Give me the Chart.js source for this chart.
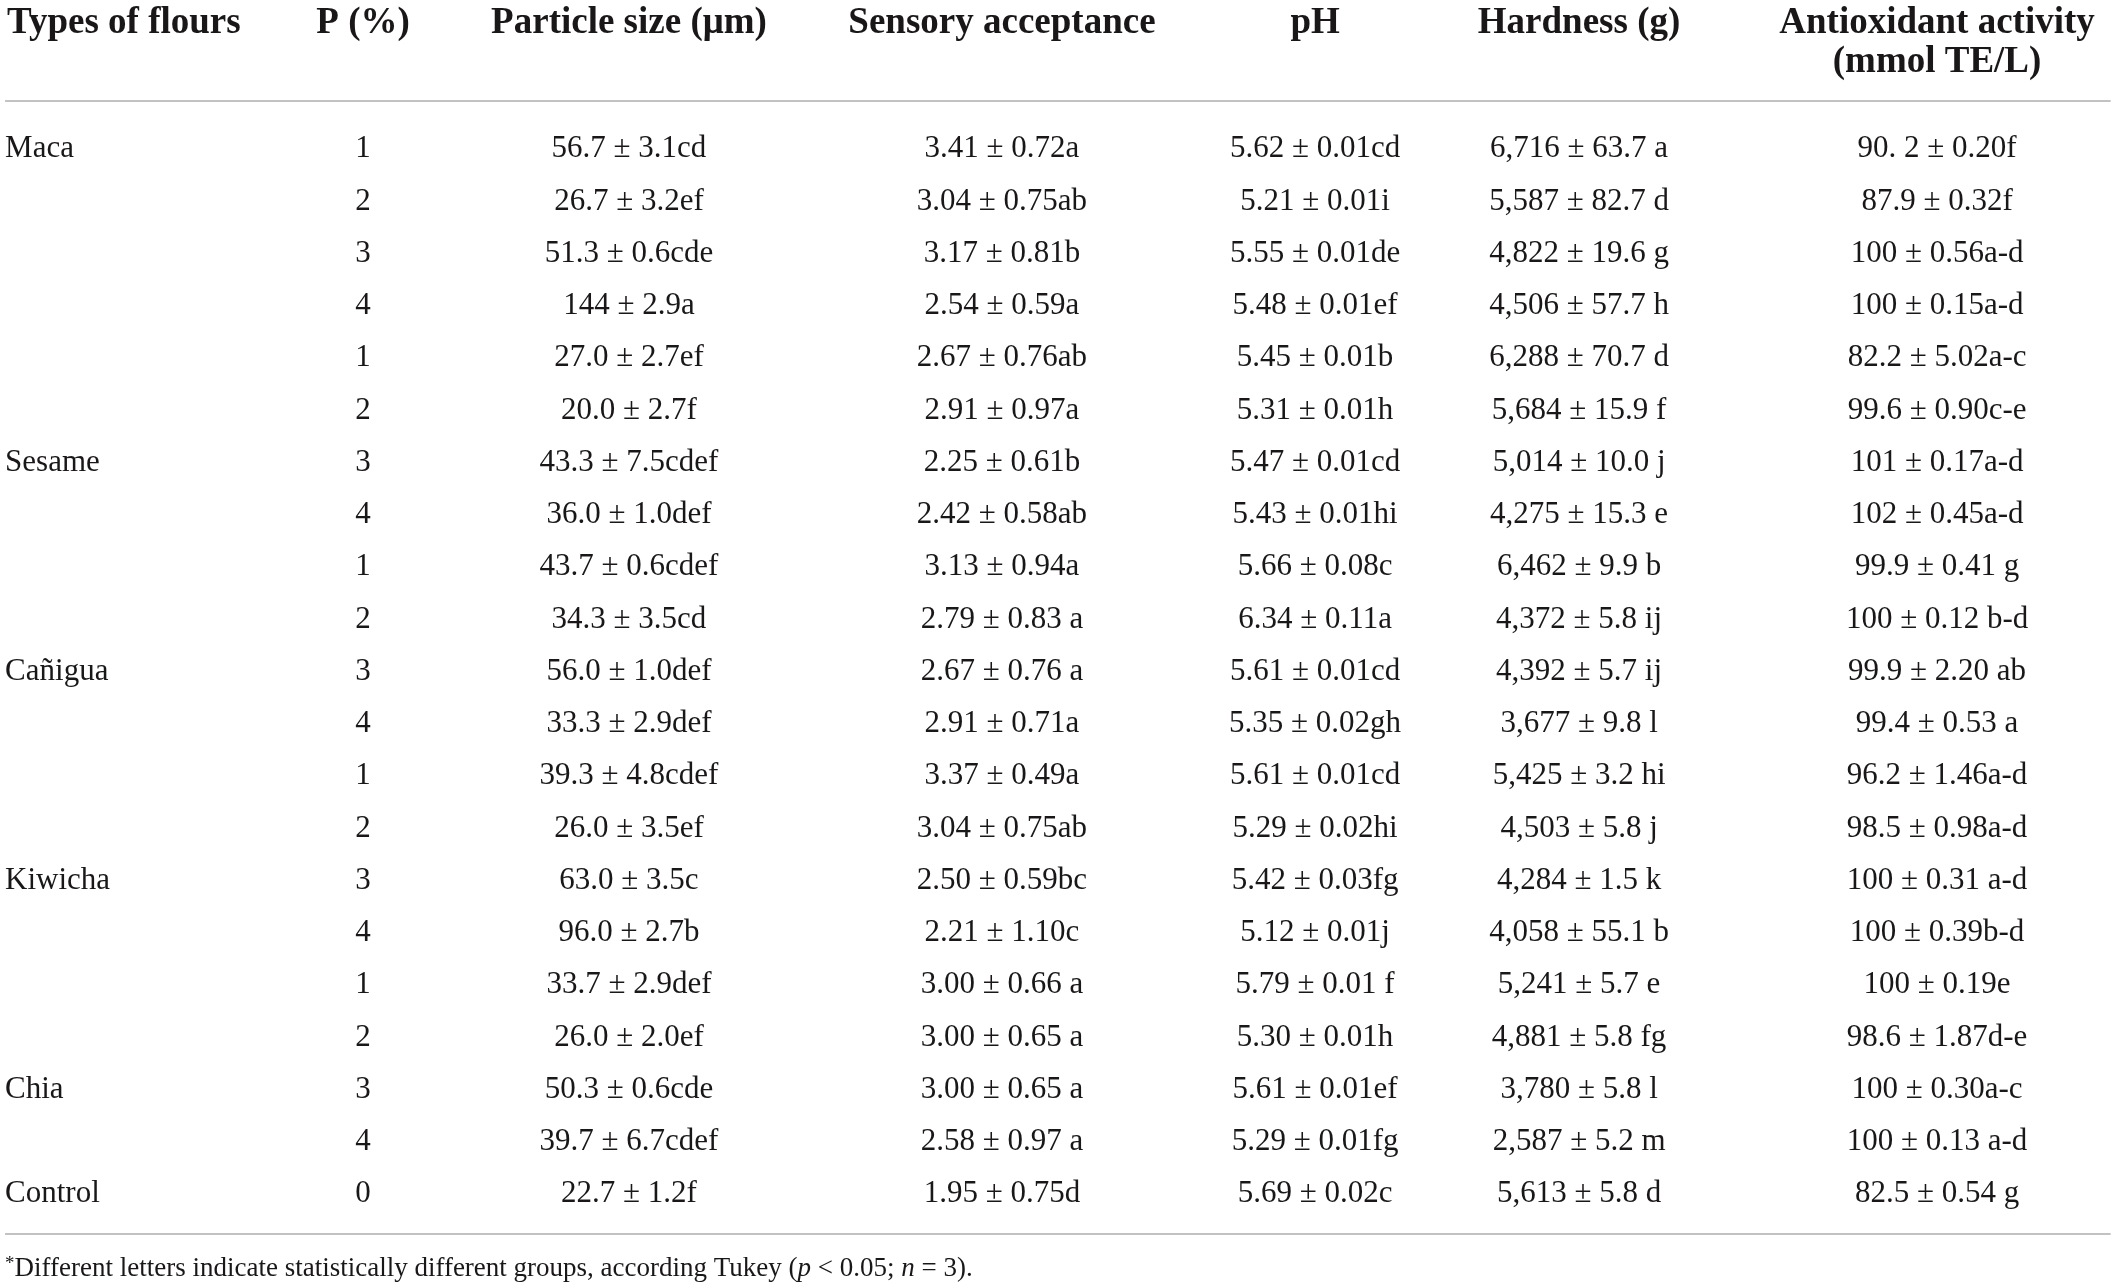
<!DOCTYPE html>
<html>
<head>
<meta charset="utf-8">
<title>Types of flours</title>
<script src="https://cdn.jsdelivr.net/npm/chart.js@4.4.1/dist/chart.umd.min.js"></script>
<style>
  html, body { margin: 0; padding: 0; background: #fff; }
  #wrap { width: 2117px; height: 1287px; position: relative; }
</style>
</head>
<body>
<div id="wrap"><canvas id="tabela"></canvas></div>
<script>
// row labels and P level
const flourTypes = ["Maca", "", "", "", "", "", "Sesame", "", "", "", "Cañigua", "", "", "", "Kiwicha", "", "", "", "Chia", "", "Control"];
const pLevels = ["1", "2", "3", "4", "1", "2", "3", "4", "1", "2", "3", "4", "1", "2", "3", "4", "1", "2", "3", "4", "0"];

// particle size (µm)
const particleMean = ["56.7", "26.7", "51.3", "144", "27.0", "20.0", "43.3", "36.0", "43.7", "34.3", "56.0", "33.3", "39.3", "26.0", "63.0", "96.0", "33.7", "26.0", "50.3", "39.7", "22.7"];
const particleSd = ["3.1", "3.2", "0.6", "2.9", "2.7", "2.7", "7.5", "1.0", "0.6", "3.5", "1.0", "2.9", "4.8", "3.5", "3.5", "2.7", "2.9", "2.0", "0.6", "6.7", "1.2"];
const particleGroup = ["cd", "ef", "cde", "a", "ef", "f", "cdef", "def", "cdef", "cd", "def", "def", "cdef", "ef", "c", "b", "def", "ef", "cde", "cdef", "f"];

// sensory acceptance
const sensoryMean = ["3.41", "3.04", "3.17", "2.54", "2.67", "2.91", "2.25", "2.42", "3.13", "2.79", "2.67", "2.91", "3.37", "3.04", "2.50", "2.21", "3.00", "3.00", "3.00", "2.58", "1.95"];
const sensorySd = ["0.72", "0.75", "0.81", "0.59", "0.76", "0.97", "0.61", "0.58", "0.94", "0.83", "0.76", "0.71", "0.49", "0.75", "0.59", "1.10", "0.66", "0.65", "0.65", "0.97", "0.75"];
const sensoryGroup = ["a", "ab", "b", "a", "ab", "a", "b", "ab", "a", " a", " a", "a", "a", "ab", "bc", "c", " a", " a", " a", " a", "d"];

// pH
const phMean = ["5.62", "5.21", "5.55", "5.48", "5.45", "5.31", "5.47", "5.43", "5.66", "6.34", "5.61", "5.35", "5.61", "5.29", "5.42", "5.12", "5.79", "5.30", "5.61", "5.29", "5.69"];
const phSd = ["0.01", "0.01", "0.01", "0.01", "0.01", "0.01", "0.01", "0.01", "0.08", "0.11", "0.01", "0.02", "0.01", "0.02", "0.03", "0.01", "0.01", "0.01", "0.01", "0.01", "0.02"];
const phGroup = ["cd", "i", "de", "ef", "b", "h", "cd", "hi", "c", "a", "cd", "gh", "cd", "hi", "fg", "j", " f", "h", "ef", "fg", "c"];

// hardness (g)
const hardMean = ["6,716", "5,587", "4,822", "4,506", "6,288", "5,684", "5,014", "4,275", "6,462", "4,372", "4,392", "3,677", "5,425", "4,503", "4,284", "4,058", "5,241", "4,881", "3,780", "2,587", "5,613"];
const hardSd = ["63.7", "82.7", "19.6", "57.7", "70.7", "15.9", "10.0", "15.3", "9.9", "5.8", "5.7", "9.8", "3.2", "5.8", "1.5", "55.1", "5.7", "5.8", "5.8", "5.2", "5.8"];
const hardGroup = [" a", " d", " g", " h", " d", " f", " j", " e", " b", " ij", " ij", " l", " hi", " j", " k", " b", " e", " fg", " l", " m", " d"];

// antioxidant activity (mmol TE/L)
const antioxMean = ["90. 2", "87.9", "100", "100", "82.2", "99.6", "101", "102", "99.9", "100", "99.9", "99.4", "96.2", "98.5", "100", "100", "100", "98.6", "100", "100", "82.5"];
const antioxSd = ["0.20", "0.32", "0.56", "0.15", "5.02", "0.90", "0.17", "0.45", "0.41", "0.12", "2.20", "0.53", "1.46", "0.98", "0.31", "0.39", "0.19", "1.87", "0.30", "0.13", "0.54"];
const antioxGroup = ["f", "f", "a-d", "a-d", "a-c", "c-e", "a-d", "a-d", " g", " b-d", " ab", " a", "a-d", "a-d", " a-d", "b-d", "e", "d-e", "a-c", " a-d", " g"];

const headers = [["Types of flours"], ["P (%)"], ["Particle size (\u03bcm)"], ["Sensory acceptance"], ["pH"], ["Hardness (g)"], ["Antioxidant activity", "(mmol TE/L)"]];
const footnote = [
  { t: "*", sup: true },
  { t: "Different letters indicate statistically different groups, according Tukey (" },
  { t: "p", it: true },
  { t: " < 0.05; " },
  { t: "n", it: true },
  { t: " = 3)." }
];

// layout (x in % of width, y in row units)
const colX = [0.24, 17.15, 29.71, 47.33, 62.12, 74.59, 91.5];
const colAlign = ["left", "center", "center", "center", "center", "center", "center"];
const headerY = [-2.431, -1.684];
const ruleY = [-0.9, 20.785];
const footY = 21.416;
const ink = "#1a1718";
const serif = '"Liberation Serif", "Times New Roman", serif';
const headSize = 37;
const bodySize = 31;
const footSize = 27;

function cellsOf(mean, sd, grp) {
  return mean.map((m, i) => `${m} \u00b1 ${sd[i]}${grp[i]}`);
}

const columns = [
  flourTypes,
  pLevels,
  cellsOf(particleMean, particleSd, particleGroup),
  cellsOf(sensoryMean, sensorySd, sensoryGroup),
  cellsOf(phMean, phSd, phGroup),
  cellsOf(hardMean, hardSd, hardGroup),
  cellsOf(antioxMean, antioxSd, antioxGroup)
];

const datasets = columns.map((cells, c) => ({
  data: cells.map((_, r) => ({ x: colX[c], y: r })),
  cells: cells,
  align: colAlign[c],
  pointRadius: 0,
  pointHoverRadius: 0
}));

ruleY.forEach((y) => {
  datasets.push({
    data: [{ x: 0.24, y: y }, { x: 99.7, y: y }],
    showLine: true,
    borderColor: "#c2c2c2",
    borderWidth: 2,
    pointRadius: 0
  });
});

const tablePlugin = {
  id: "tablePlugin",
  afterDatasetsDraw(chart) {
    const c = chart.ctx;
    const xs = chart.scales.x;
    const ys = chart.scales.y;
    c.save();
    c.fillStyle = ink;
    c.textBaseline = "alphabetic";

    // column headers
    c.font = `bold ${headSize}px ${serif}`;
    headers.forEach((lines, i) => {
      c.textAlign = colAlign[i];
      lines.forEach((txt, j) => {
        const x = xs.getPixelForValue(colX[i] + (i === 0 ? 0.09 : 0));
        c.fillText(txt, x, ys.getPixelForValue(headerY[j]) + headSize * 0.32);
      });
    });

    // cells
    c.font = `${bodySize}px ${serif}`;
    chart.data.datasets.forEach((ds, d) => {
      if (!ds.cells) return;
      c.textAlign = ds.align;
      chart.getDatasetMeta(d).data.forEach((pt, k) => {
        if (ds.cells[k]) c.fillText(ds.cells[k], pt.x, pt.y + bodySize * 0.3);
      });
    });

    // footnote
    c.textAlign = "left";
    let x = xs.getPixelForValue(colX[0]);
    const yb = ys.getPixelForValue(footY) + footSize * 0.32;
    footnote.forEach((p) => {
      const size = p.sup ? footSize * 0.7 : footSize;
      c.font = `${p.it ? "italic " : ""}${size}px ${serif}`;
      c.fillText(p.t, x, p.sup ? yb - footSize * 0.25 : yb);
      x += c.measureText(p.t).width;
    });
    c.restore();
  }
};

new Chart(document.getElementById("tabela"), {
  type: "scatter",
  data: { datasets: datasets },
  options: {
    responsive: true,
    maintainAspectRatio: false,
    animation: false,
    events: [],
    layout: { padding: 0 },
    scales: {
      x: { type: "linear", bounds: "data", min: 0, max: 100, display: false },
      y: { type: "linear", bounds: "data", min: -2.833, max: 21.8, reverse: true, display: false }
    },
    plugins: {
      legend: { display: false },
      tooltip: { enabled: false }
    }
  },
  plugins: [tablePlugin]
});
</script>
</body>
</html>
